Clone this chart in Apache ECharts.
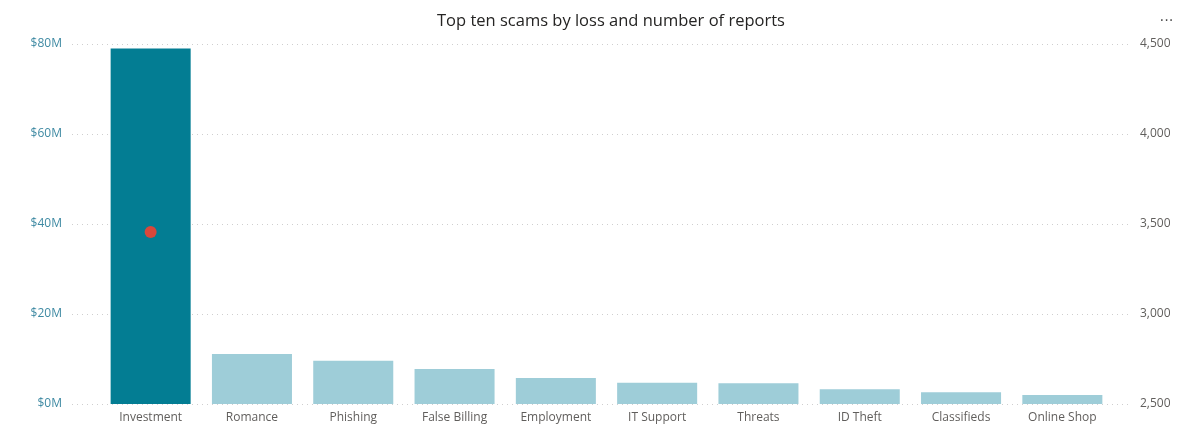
<!DOCTYPE html>
<html>
<head>
<meta charset="utf-8">
<script src="https://cdn.jsdelivr.net/npm/echarts@6/dist/echarts.min.js"></script>
<style>
  html, body { margin: 0; padding: 0; background: #fff; }
  #chart { width: 1200px; height: 441px; }
  #more { position: absolute; left: 1160px; top: 6px; font: 14px "Open Sans", sans-serif; color: #444; letter-spacing: 1px; }
</style>
</head>
<body>
<div id="chart"></div>
<div id="more">...</div>
<script>
// scam categories, sorted by total loss
var scams = ["Investment", "Romance", "Phishing", "False Billing", "Employment",
             "IT Support", "Threats", "ID Theft", "Classifieds", "Online Shop"];
// loss in $M
var lossMillions = [79.0, 11.1, 9.6, 7.8, 5.8, 4.7, 4.6, 3.3, 2.6, 2.0];
// number of reports (only the Investment marker is inside the axis range)
var reports = [3455, null, null, null, null, null, null, null, null, null];

var lossTicks = [0, 20, 40, 60, 80];
var reportTicks = [2500, 3000, 3500, 4000, 4500];

var darkTeal = "#037d93";
var lightTeal = "#9ecdd8";

var chart = echarts.init(document.getElementById("chart"));

var barData = [];
for (var i = 0; i < lossMillions.length; i++) {
    barData.push({
        value: lossMillions[i],
        itemStyle: { color: i === 0 ? darkTeal : lightTeal }
    });
}

var option = {
    animation: false,
    textStyle: { fontFamily: "Open Sans" },
    title: {
        text: "Top ten scams by loss and number of reports",
        left: 432,
        top: 8,
        textStyle: { color: "#252423", fontSize: 16.5, fontWeight: "normal", fontFamily: "Open Sans" }
    },
    grid: [
        { left: 100, right: 87, top: 44, bottom: 37 },
        // wider grid only for the dotted gridlines
        { left: 72, right: 68, top: 44, bottom: 37 }
    ],
    xAxis: [
        {
            type: "category",
            data: scams,
            gridIndex: 0,
            axisLine: { show: false },
            axisTick: { show: false },
            axisLabel: { color: "#605e5c", fontSize: 12, margin: 8 }
        },
        {
            type: "category",
            data: scams,
            gridIndex: 1,
            show: false
        }
    ],
    yAxis: [
        {
            type: "value",
            gridIndex: 0,
            min: lossTicks[0],
            max: lossTicks[lossTicks.length - 1],
            interval: 20,
            axisLine: { show: false },
            axisTick: { show: false },
            axisLabel: {
                color: "#3f8aa3",
                fontSize: 12,
                margin: 38,
                formatter: function (v) { return "$" + v + "M"; }
            },
            splitLine: { show: false }
        },
        {
            type: "value",
            gridIndex: 0,
            min: reportTicks[0],
            max: reportTicks[reportTicks.length - 1],
            interval: 500,
            axisLine: { show: false },
            axisTick: { show: false },
            axisLabel: {
                color: "#605e5c",
                fontSize: 12,
                margin: 27,
                formatter: function (v) { return v.toLocaleString("en-US"); }
            },
            splitLine: { show: false }
        },
        {
            type: "value",
            gridIndex: 1,
            min: lossTicks[0],
            max: lossTicks[lossTicks.length - 1],
            interval: 20,
            axisLine: { show: false },
            axisTick: { show: false },
            axisLabel: { show: false },
            splitLine: { lineStyle: { color: "#cfcfcf", type: [1, 4] } }
        }
    ],
    series: [
        {
            name: "Loss",
            type: "bar",
            data: barData,
            barCategoryGap: "21%",
            z: 3
        },
        {
            name: "Reports",
            type: "scatter",
            yAxisIndex: 1,
            data: reports,
            symbolSize: 12,
            z: 4,
            itemStyle: { color: "#d9473b", opacity: 1 }
        }
    ]
};

chart.setOption(option);
</script>
</body>
</html>
